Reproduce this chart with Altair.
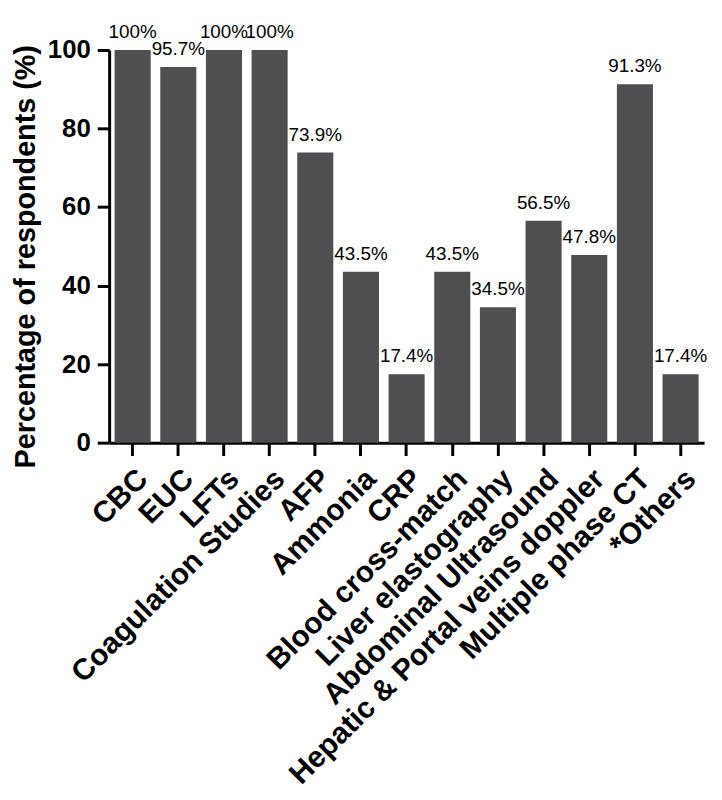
import altair as alt
import pandas as pd

categories = ["CBC", "EUC", "LFTs", "Coagulation Studies", "AFP", "Ammonia", "CRP",
              "Blood cross-match", "Liver elastography", "Abdominal Ultrasound",
              "Hepatic & Portal veins doppler", "Multiple phase CT", "*Others"]
values = [100, 95.7, 100, 100, 73.9, 43.5, 17.4, 43.5, 34.5, 56.5, 47.8, 91.3, 17.4]
labels = ["100%", "95.7%", "100%", "100%", "73.9%", "43.5%", "17.4%", "43.5%",
          "34.5%", "56.5%", "47.8%", "91.3%", "17.4%"]
y_ticks = [0, 20, 40, 60, 80, 100]

df = pd.DataFrame({"cat": categories, "val": values, "lab": labels})

FONT = "Liberation Sans"

x_enc = alt.X(
    "cat:N", sort=categories,
    scale=alt.Scale(paddingInner=0.21, paddingOuter=0.12),
    axis=alt.Axis(
        title=None, labelAngle=-45, labelFont=FONT, labelFontSize=30,
        labelFontWeight="bold", labelColor="black", labelLimit=800,
        labelPadding=8, tickSize=13, tickWidth=3, tickColor="black",
        domainWidth=3, domainColor="black",
    ),
)

y_enc = alt.Y(
    "val:Q",
    scale=alt.Scale(domain=[0, 100], nice=False),
    axis=alt.Axis(
        values=y_ticks, grid=False, title="Percentage of respondents (%)",
        labelFont=FONT, labelFontSize=26, labelFontWeight="bold",
        labelColor="black", labelPadding=7, tickSize=12, tickWidth=3,
        tickColor="black", domainWidth=3, domainColor="black",
        titleFont=FONT, titleFontSize=29, titleFontWeight="bold",
        titleColor="black", titleX=-75, titleY=208, titleAngle=-90,
        titleAlign="center", titleBaseline="alphabetic",
    ),
)

base = alt.Chart(df).encode(x=x_enc)

bars = base.mark_bar(color="#4f4f52").encode(y=y_enc)
text = base.mark_text(font=FONT, fontSize=19, baseline="alphabetic", dy=-12,
                      color="black").encode(y=alt.Y("val:Q"), text="lab:N")

chart = (bars + text).properties(
    width=600, height=396,
    autosize=alt.AutoSizeParams(type="none"),
    padding={"left": 102, "top": 39, "right": 10, "bottom": 353},
    background="white",
).configure_view(stroke=None)

chart.save("out.html", embed_options={"renderer": "svg", "actions": False})
